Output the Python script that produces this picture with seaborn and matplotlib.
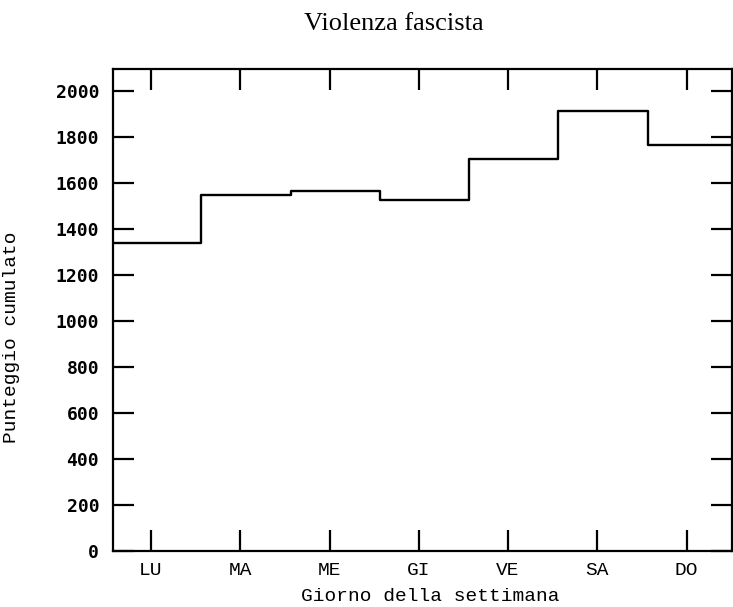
import numpy as np
import pandas as pd
import matplotlib
matplotlib.use("Agg")
import matplotlib.pyplot as plt
import seaborn as sns

# Cumulative score of fascist violence by day of the week
giorni = ["LU", "MA", "ME", "GI", "VE", "SA", "DO"]
punteggio = [1340, 1548, 1566, 1525, 1703, 1915, 1766]
yticks = [0, 200, 400, 600, 800, 1000, 1200, 1400, 1600, 1800, 2000]

df = pd.DataFrame({"pos": np.arange(len(giorni)), "giorno": giorni,
                   "punteggio": punteggio})

sns.set_theme(style="ticks")
plt.rcParams["font.family"] = ["Liberation Mono", "DejaVu Sans Mono"]
plt.rcParams["text.color"] = "black"
plt.rcParams["axes.labelcolor"] = "black"
plt.rcParams["xtick.color"] = "black"
plt.rcParams["ytick.color"] = "black"

fig = plt.figure(figsize=(7.33, 6.07), dpi=100)
ax = fig.add_axes([0.1542, 0.0923, 0.8440, 0.7940])

sns.histplot(data=df, x="pos", weights="punteggio",
             binwidth=1, binrange=(-0.5, len(giorni) - 0.5),
             element="step", fill=False, color="black", linewidth=1.7, ax=ax)

ax.set_xlim(-0.49, 6.44)
ax.set_ylim(0, 2096)
ax.set_xticks(np.arange(len(giorni)) - 0.065)
ax.set_xticklabels(giorni, fontsize=14)
ax.set_yticks(yticks)
ax.set_yticklabels([str(v) for v in yticks], fontsize=13,
                   family="DejaVu Sans Mono", fontweight="bold")

for s in ax.spines.values():
    s.set_visible(True)
    s.set_linewidth(1.6)
    s.set_color("black")

ax.tick_params(axis="both", direction="in", length=15, width=1.6,
               color="black", top=True, right=True)
ax.tick_params(axis="x", pad=8)
ax.tick_params(axis="y", pad=10)

ax.set_xlabel("Giorno della settimana", fontsize=14)
ax.set_ylabel("Punteggio cumulato", fontsize=14)
ax.xaxis.set_label_coords(0.512, -0.076)
ax.yaxis.set_label_coords(-0.150, 0.444)

fig.text(394 / 733, 1 - 24 / 607, "Violenza fascista",
         family="Liberation Serif", fontsize=19, ha="center", va="center")

fig.savefig("out.png", dpi=100, facecolor="white")
